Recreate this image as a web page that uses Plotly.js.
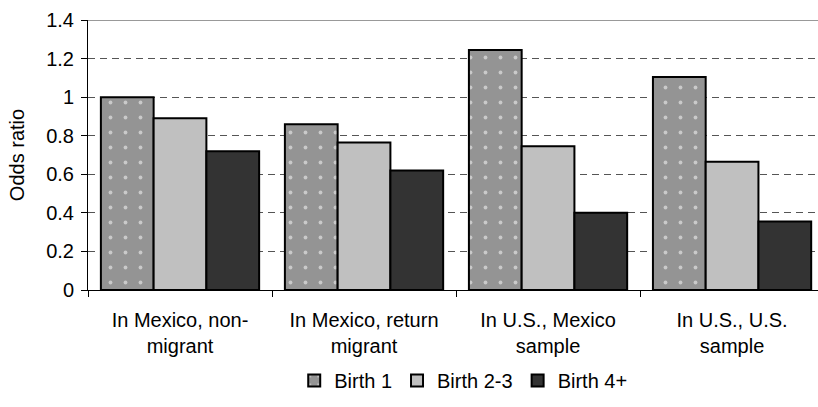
<!DOCTYPE html>
<html>
<head>
<meta charset="utf-8">
<script src="https://cdn.plot.ly/plotly-3.0.1.min.js"></script>
<style>
html, body { margin: 0; padding: 0; background: #fff; overflow: hidden; }
#chart { width: 818px; height: 407px; }
</style>
</head>
<body>
<div id="chart"></div>
<script>
var categories = ["In Mexico, non-<br>migrant", "In Mexico, return<br>migrant", "In U.S., Mexico<br>sample", "In U.S., U.S.<br>sample"];
var seriesNames = ["Birth 1", "Birth 2-3", "Birth 4+"];
var birth1 = [1.00, 0.86, 1.245, 1.105];
var birth23 = [0.89, 0.765, 0.745, 0.665];
var birth4 = [0.72, 0.62, 0.40, 0.355];
var yTicks = [0, 0.2, 0.4, 0.6, 0.8, 1, 1.2, 1.4];
var yTickText = ["0", "0.2", "0.4", "0.6", "0.8", "1", "1.2", "1.4"];

var FONT = "'Liberation Sans', Arial, sans-serif";
var FS = 20;
var lineStyle = {color: "#000000", width: 2};

var traces = [
  {
    type: "bar", name: seriesNames[0], x: categories, y: birth1,
    marker: {
      color: "#949494", line: lineStyle,
      pattern: {shape: ".", fgcolor: "#ffffff", bgcolor: "#949494", size: 15, solidity: 0.05, fillmode: "overlay"}
    },
    hoverinfo: "y"
  },
  {
    type: "bar", name: seriesNames[1], x: categories, y: birth23,
    marker: {color: "#c0c0c0", line: lineStyle},
    hoverinfo: "y"
  },
  {
    type: "bar", name: seriesNames[2], x: categories, y: birth4,
    marker: {color: "#333333", line: lineStyle},
    hoverinfo: "y"
  }
];

var layout = {
  width: 818, height: 407,
  margin: {l: 88, r: 0, t: 20, b: 117, pad: 0},
  paper_bgcolor: "#ffffff", plot_bgcolor: "#ffffff",
  font: {family: FONT, size: FS, color: "#000000"},
  barmode: "group", bargap: 0.14, bargroupgap: 0,
  showlegend: true,
  legend: {
    orientation: "h", x: 0.514, xanchor: "center", y: -0.335, yanchor: "middle",
    font: {family: FONT, size: FS, color: "#000000"},
    itemwidth: 30, traceorder: "normal", tracegroupgap: 0
  },
  xaxis: {
    type: "category",
    range: [-0.5, 3.467],
    showline: true, linecolor: "#000000", linewidth: 1,
    ticks: "outside", tickson: "boundaries", ticklen: 6, tickcolor: "#000000",
    showgrid: false, zeroline: false,
    tickfont: {family: FONT, size: FS, color: "#000000"},
    ticklabelstandoff: 12
  },
  yaxis: {
    range: [0, 1.4],
    tickvals: yTicks, ticktext: yTickText,
    showline: true, linecolor: "#000000", linewidth: 1,
    ticks: "outside", ticklen: 6, tickcolor: "#000000",
    showgrid: true, gridcolor: "#555555", gridwidth: 1, griddash: "7px,5px",
    zeroline: false,
    tickfont: {family: FONT, size: FS, color: "#000000"},
    ticklabelstandoff: 3,
    title: {text: "Odds ratio", font: {family: FONT, size: FS, color: "#000000"}, standoff: 16},
    automargin: false
  },
  shapes: [
    {type: "line", xref: "paper", yref: "y", x0: 0, x1: 1, y0: 1.4, y1: 1.4,
     line: {color: "#999999", width: 2}, layer: "above"}
  ]
};

Plotly.newPlot("chart", traces, layout, {displayModeBar: false, staticPlot: true});
</script>
</body>
</html>
